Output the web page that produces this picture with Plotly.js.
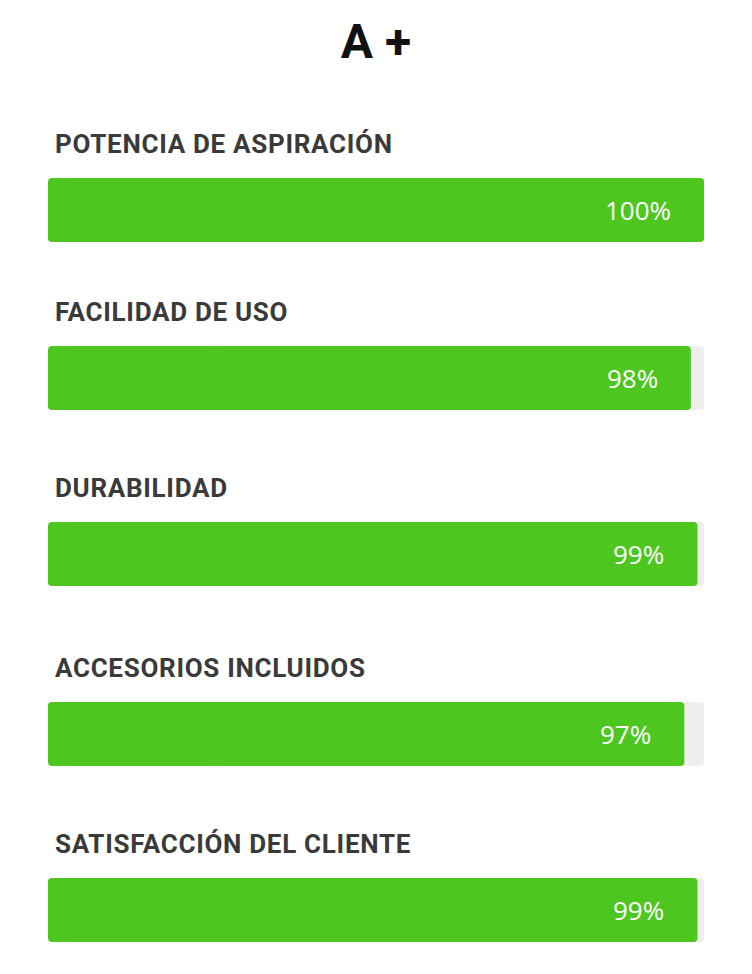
<!DOCTYPE html>
<html><head><meta charset="utf-8">
<script src="https://cdn.plot.ly/plotly-3.0.1.min.js"></script>
<style>html,body{margin:0;padding:0;background:#fff}#c{width:752px;height:974px}</style>
</head><body><div id="c"></div>
<script>
const categories = ["POTENCIA DE ASPIRACIÓN","FACILIDAD DE USO","DURABILIDAD","ACCESORIOS INCLUIDOS","SATISFACCIÓN DEL CLIENTE"];
const values = [100, 98, 99, 97, 99];
const maxValue = 100;
const valueLabels = values.map(v => v + "%");

// layout positions (px from top) of each bar row
const barTops = [178, 346, 522, 702, 878];
const barH = 64;
const H = 974, W = 752;

const traces = [];
const annotations = [];
const layout = {
  width: W, height: H,
  margin: {l:0, r:0, t:0, b:0},
  paper_bgcolor: '#fff', plot_bgcolor: 'rgba(0,0,0,0)',
  barmode: 'overlay',
  showlegend: false,
  title: {text: 'A +', font: {family: 'Roboto', size: 48, weight: 'bold', color: '#111'}, x: 0.5, xanchor: 'center', y: 1 - 41/H, yanchor: 'middle', yref: 'container'},
  xaxis: {domain: [48/W, 704/W], range: [0, maxValue], visible: false, fixedrange: true},
  annotations: annotations
};

function roundedBar(cat, ax, v, color) {
  // left piece: tip at 0 (rounded left end); right piece overlaps it, tip at v (rounded right end)
  traces.push({type: 'bar', orientation: 'h', y: [cat], x: [-v/2], base: [v/2], width: 1,
    xaxis: 'x', yaxis: ax, marker: {color: color, cornerradius: 4, line: {width: 0}}, hoverinfo: 'skip'});
  traces.push({type: 'bar', orientation: 'h', y: [cat], x: [v*3/4], base: [v/4], width: 1,
    xaxis: 'x', yaxis: ax, marker: {color: color, cornerradius: 4, line: {width: 0}}, hoverinfo: 'skip'});
}

categories.forEach((cat, i) => {
  const ax = i === 0 ? 'y' : 'y' + (i+1);
  const axKey = i === 0 ? 'yaxis' : 'yaxis' + (i+1);
  layout[axKey] = {domain: [1 - (barTops[i] + barH)/H, 1 - barTops[i]/H], range: [-0.5, 0.5], visible: false, type: 'category', fixedrange: true};
  const v = values[i];
  roundedBar(cat, ax, maxValue, '#eeeeee');
  roundedBar(cat, ax, v, '#4dc71f');
  annotations.push({
    xref: 'x', yref: ax, x: v, y: cat, xanchor: 'right', yanchor: 'middle', xshift: -31,
    text: valueLabels[i], showarrow: false, font: {family: 'Open Sans', size: 26, color: '#ffffff'}
  });
  annotations.push({
    xref: 'paper', yref: ax + ' domain', x: 53/W, y: 1, xanchor: 'left', yanchor: 'middle', yshift: 34,
    text: '<span style="letter-spacing:0.7px">' + cat + '</span>', showarrow: false,
    font: {family: 'Roboto', size: 26, weight: 'bold', color: '#3a3a3a'}
  });
});

Plotly.newPlot('c', traces, layout, {displayModeBar: false, staticPlot: true});
</script></body></html>
